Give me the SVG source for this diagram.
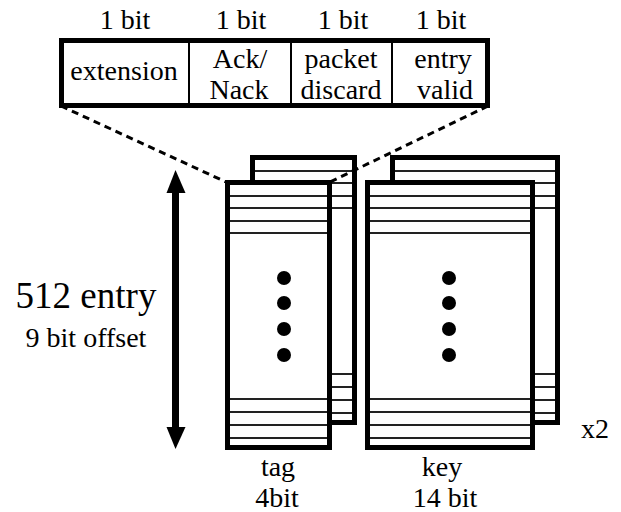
<svg xmlns="http://www.w3.org/2000/svg" width="621" height="512" viewBox="0 0 621 512">
  <style>
    text { font-family: "Liberation Serif", "Times New Roman", Times, "DejaVu Serif", serif; font-size: 28px; fill: #000; text-anchor: middle; }
    .big { font-size: 37px; }
    .frame { fill: #fff; stroke: #000; stroke-width: 5; }
    .row { stroke: #222; stroke-width: 2; fill: none; }
    .div { stroke: #000; stroke-width: 2; }
    .dash { stroke: #000; stroke-width: 3; stroke-dasharray: 7 5; fill: none; }
  </style>

  <!-- bit-field header -->
  <g id="field-header" font-family="Liberation Serif">
    <text x="125" y="29">1 bit</text>
    <text x="241" y="29">1 bit</text>
    <text x="343" y="29">1 bit</text>
    <text x="441" y="29">1 bit</text>
    <rect class="frame" x="61.5" y="40.5" width="426" height="65"/>
    <line class="div" x1="189" y1="43" x2="189" y2="103"/>
    <line class="div" x1="291" y1="43" x2="291" y2="103"/>
    <line class="div" x1="392" y1="43" x2="392" y2="103"/>
    <text x="124" y="80">extension</text>
    <text x="240" y="68">Ack/</text>
    <text x="239" y="99">Nack</text>
    <text x="341" y="68">packet</text>
    <text x="341" y="99">discard</text>
    <text x="443" y="68">entry</text>
    <text x="445" y="99">valid</text>
  </g>

  <!-- tag table, second copy behind -->
  <g id="tag-back">
    <rect class="frame" x="252.5" y="157.5" width="102" height="265"/>
    <path class="row" d="M255 171H352M255 183H352M255 196H352M255 208H352M255 374H352M255 387H352M255 400H352M255 413H352"/>
  </g>

  <!-- key table, second copy behind -->
  <g id="key-back">
    <rect class="frame" x="392.5" y="157.5" width="165" height="265"/>
    <path class="row" d="M395 171H555M395 183H555M395 196H555M395 208H555M395 374H555M395 387H555M395 400H555M395 413H555"/>
  </g>

  <!-- tag table -->
  <g id="tag">
    <rect class="frame" x="227.5" y="182.5" width="102" height="265"/>
    <path class="row" d="M230 196H327M230 208H327M230 221H327M230 233H327M230 399H327M230 412H327M230 425H327M230 438H327"/>
    <circle cx="284" cy="278" r="7"/>
    <circle cx="284" cy="303" r="7"/>
    <circle cx="284" cy="329" r="7"/>
    <circle cx="284" cy="355" r="7"/>
    <text x="278" y="476">tag</text>
    <text x="277" y="507">4bit</text>
  </g>

  <!-- key table -->
  <g id="key">
    <rect class="frame" x="367.5" y="182.5" width="165" height="265"/>
    <path class="row" d="M370 196H530M370 208H530M370 221H530M370 233H530M370 399H530M370 412H530M370 425H530M370 438H530"/>
    <circle cx="449" cy="278" r="7"/>
    <circle cx="449" cy="303" r="7"/>
    <circle cx="449" cy="329" r="7"/>
    <circle cx="449" cy="355" r="7"/>
    <text x="442" y="476">key</text>
    <text x="445" y="507">14 bit</text>
  </g>

  <g id="multiplier">
    <text x="595" y="438">x2</text>
  </g>

  <!-- table depth -->
  <g id="depth">
    <text class="big" x="86" y="308">512 entry</text>
    <text x="86" y="347">9 bit offset</text>
  </g>

  <g id="connectors">
    <line class="dash" x1="61" y1="106" x2="226" y2="182"/>
    <line class="dash" x1="488" y1="106" x2="330" y2="182"/>
    <rect x="172" y="191" width="7" height="238"/>
    <polygon points="175.5,170 166.5,193 185.5,193"/>
    <polygon points="175.5,449 166.5,427 185.5,427"/>
  </g>
</svg>
